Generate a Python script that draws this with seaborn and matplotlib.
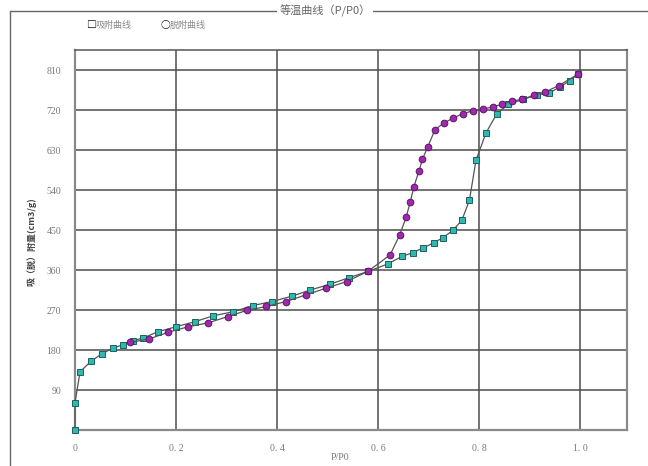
import matplotlib
matplotlib.use("Agg")
import matplotlib.pyplot as plt
from matplotlib.lines import Line2D
import numpy as np
import pandas as pd
import seaborn as sns

# Adsorption branch (relative pressure P/P0, volume cm3/g)
ads_p = [0.0, 0.0, 0.01, 0.032, 0.054, 0.075, 0.095, 0.115, 0.135, 0.164,
         0.199, 0.238, 0.274, 0.313, 0.352, 0.39, 0.429, 0.466, 0.505, 0.543,
         0.581, 0.62, 0.648, 0.669, 0.69, 0.71, 0.729, 0.748, 0.766, 0.781,
         0.794, 0.814, 0.835, 0.858, 0.888, 0.915, 0.939, 0.96, 0.98, 0.995]
ads_v = [0, 61, 131, 155, 172, 184, 192, 201, 207, 221,
         232, 244, 257, 266, 280, 289, 301, 315, 328, 343,
         357, 374, 391, 399, 410, 421, 433, 449, 472, 517,
         607, 669, 711, 733, 744, 754, 758, 772, 786, 800]

# Desorption branch
des_p = [0.109, 0.147, 0.185, 0.223, 0.263, 0.302, 0.340, 0.379, 0.418, 0.457,
         0.497, 0.538, 0.580, 0.624, 0.643, 0.656, 0.664, 0.671, 0.681, 0.688,
         0.698, 0.713, 0.731, 0.749, 0.768, 0.788, 0.807, 0.827, 0.846, 0.865,
         0.886, 0.908, 0.930, 0.958, 0.995]
des_v = [197, 205, 220, 232, 241, 255, 269, 278, 289, 304,
         319, 334, 357, 394, 439, 480, 514, 547, 583, 609,
         636, 676, 691, 702, 712, 718, 722, 727, 733, 740,
         744, 753, 760, 775, 800]

x_ticks = [0, 0.2, 0.4, 0.6, 0.8, 1.0]
x_tick_labels = ["0", "0. 2", "0. 4", "0. 6", "0. 8", "1. 0"]
y_ticks = [0, 90, 180, 270, 360, 450, 540, 630, 720, 810]
y_tick_labels = ["", "90", "180", "270", "360", "450", "540", "630", "720", "810"]

sns.set_theme(style="white")
plt.rcParams["font.family"] = ["Noto Sans CJK SC", "DejaVu Sans"]

ads = pd.DataFrame({"p": ads_p, "v": ads_v})
des = pd.DataFrame({"p": des_p, "v": des_v})

fig = plt.figure(figsize=(6.48, 4.66), dpi=100)
ax = fig.add_axes([75 / 648, 36 / 466, 552 / 648, 380 / 466])

line_col = "#555555"
sns.lineplot(data=ads, x="p", y="v", ax=ax, estimator=None, sort=False,
             color=line_col, linewidth=0.9, marker="s", markersize=4.6,
             markerfacecolor="#2fb8b0", markeredgecolor="#19625e",
             markeredgewidth=0.7, clip_on=False, zorder=3)
sns.lineplot(data=des, x="p", y="v", ax=ax, estimator=None, sort=False,
             color=line_col, linewidth=0.9, marker="o", markersize=4.8,
             markerfacecolor="#a126b0", markeredgecolor="#5a1566",
             markeredgewidth=0.7, clip_on=False, zorder=4)

ax.set_xlim(0, 1.093)
ax.set_ylim(0, 855)
ax.set_xticks(x_ticks)
ax.set_xticklabels(x_tick_labels)
ax.set_yticks(y_ticks)
ax.set_yticklabels(y_tick_labels)
ax.grid(True, color="#4d4d4d", linewidth=1.1)
ax.tick_params(axis="both", length=0, labelsize=7, colors="#777777", pad=10)
for lab in ax.get_xticklabels() + ax.get_yticklabels():
    lab.set_family(["Liberation Serif", "DejaVu Serif"])
for s in ax.spines.values():
    s.set_color("#8a8a8a")
    s.set_linewidth(1.6)
ax.spines["top"].set_color("#555555")
ax.spines["top"].set_linewidth(1.1)
ax.set_xlabel("")
ax.set_ylabel("")

# axis labels
fig.text(340 / 648, 1 - 457 / 466, "P/P0", ha="center", va="center",
         fontsize=7, color="#777777", family=["Liberation Serif", "DejaVu Serif"])
fig.text(32 / 648, 1 - 242 / 466, "吸（脱）附量(cm3/g)", ha="center", va="center",
         rotation=90, fontsize=6.5, color="#444444", fontweight="bold")

# outer frame with title set into the top border
fig.add_artist(Line2D([10 / 648, 1.0], [1 - 11 / 466] * 2, transform=fig.transFigure,
                      color="#666666", linewidth=1.0))
fig.add_artist(Line2D([10 / 648] * 2, [0, 1 - 11 / 466], transform=fig.transFigure,
                      color="#666666", linewidth=1.0))
fig.text(325 / 648, 1 - 11 / 466, "等温曲线（P/P0）", ha="center", va="center",
         fontsize=8, color="#666666",
         bbox=dict(facecolor="white", edgecolor="none", pad=1.5))

# legend row
fig.text(86 / 648, 1 - 25 / 466, "□", ha="left", va="center", fontsize=7,
         color="#111111", fontweight="bold")
fig.text(95 / 648, 1 - 25 / 466, "吸附曲线", ha="left", va="center", fontsize=6.5, color="#888888")
fig.text(161 / 648, 1 - 25 / 466, "○", ha="left", va="center", fontsize=7,
         color="#111111", fontweight="bold")
fig.text(170 / 648, 1 - 25 / 466, "脱附曲线", ha="left", va="center", fontsize=6.5, color="#888888")

fig.savefig("out.png", dpi=100, facecolor="white")
